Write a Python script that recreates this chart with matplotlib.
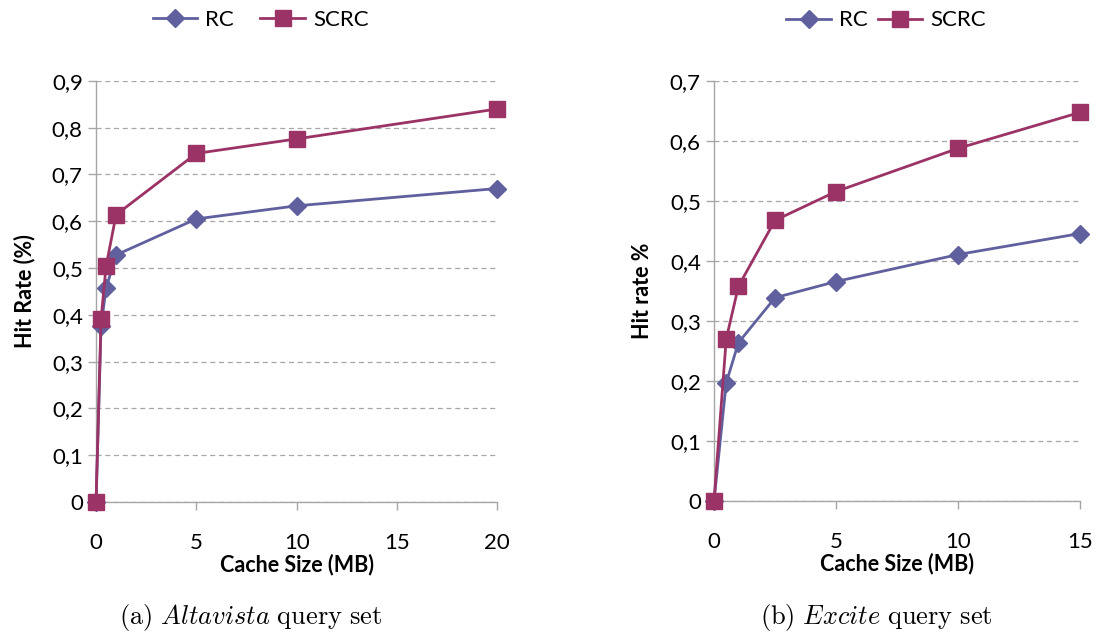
import matplotlib.pyplot as plt
from matplotlib.ticker import FuncFormatter

plt.rcParams['font.family'] = ['Lato', 'DejaVu Sans']
plt.rcParams['mathtext.fontset'] = 'cm'

# (a) Altavista
alta_x = [0, 0.25, 0.5, 1, 5, 10, 20]
alta_rc = [0, 0.376, 0.457, 0.528, 0.605, 0.633, 0.670]
alta_scrc = [0, 0.391, 0.504, 0.614, 0.745, 0.776, 0.840]

# (b) Excite
exc_x = [0, 0.5, 1, 2.5, 5, 10, 15]
exc_rc = [0, 0.197, 0.264, 0.339, 0.366, 0.411, 0.446]
exc_scrc = [0, 0.270, 0.358, 0.468, 0.516, 0.588, 0.648]

RC_COL = "#60609f"
SCRC_COL = "#9b3366"
GRID = "#a6a6a6"

comma = FuncFormatter(lambda v, p: ("%g" % round(v, 2)).replace(".", ","))

fig = plt.figure(figsize=(10.99, 6.38), dpi=100)
ax1 = fig.add_axes([0.0874, 0.2132, 0.365, 0.660])
ax2 = fig.add_axes([0.6497, 0.2147, 0.333, 0.658])


def style(ax, x, rc, scrc, xmax, ymax, ylabel, xticks):
    ax.plot(x, rc, color=RC_COL, lw=2.0, marker="D", ms=9.5, mec=RC_COL,
            label="RC", zorder=3)
    ax.plot(x, scrc, color=SCRC_COL, lw=2.0, marker="s", ms=11.5, mec=SCRC_COL,
            label="SCRC", zorder=4)
    ax.set_xlim(0, xmax)
    ax.set_ylim(0, ymax)
    ax.set_xticks(xticks)
    ax.set_yticks([i / 10 for i in range(int(round(ymax * 10)) + 1)])
    ax.yaxis.set_major_formatter(comma)
    ax.grid(axis="y", ls=(0, (4, 3)), color=GRID, lw=0.9)
    ax.set_axisbelow(True)
    for s in ["top", "right"]:
        ax.spines[s].set_visible(False)
    for s in ["left", "bottom"]:
        ax.spines[s].set_color(GRID)
        ax.spines[s].set_linewidth(1.0)
    ax.tick_params(colors=GRID, labelcolor="black", labelsize=16,
                   length=6, width=1.0)
    ax.tick_params(axis="x", pad=16)
    ax.set_xlabel("Cache Size (MB)", fontsize=15.5, fontweight="bold", labelpad=1)
    ax.set_ylabel(ylabel, fontsize=15.5, fontweight="bold", labelpad=12)
    for l in ax.lines:
        l.set_clip_on(False)


style(ax1, alta_x, alta_rc, alta_scrc, 20, 0.9, "Hit Rate (%)", [0, 5, 10, 15, 20])
style(ax2, exc_x, exc_rc, exc_scrc, 15, 0.7, "Hit rate %", [0, 5, 10, 15])

ax1.legend(loc="center", bbox_to_anchor=(0.41, 1.145), ncol=2, frameon=False,
           fontsize=16, handlelength=2.0, columnspacing=1.2, handletextpad=0.36)
ax2.legend(loc="center", bbox_to_anchor=(0.47, 1.145), ncol=2, frameon=False,
           fontsize=16, handlelength=2.0, columnspacing=0.45, handletextpad=0.36)

fig.text(0.228, 0.022, r"$\mathrm{(a)}\ \mathit{Altavista}\ \mathrm{query\ set}$",
         fontsize=19, ha="center")
fig.text(0.797, 0.022, r"$\mathrm{(b)}\ \mathit{Excite}\ \mathrm{query\ set}$",
         fontsize=19, ha="center")

fig.savefig("out.png", dpi=100)
